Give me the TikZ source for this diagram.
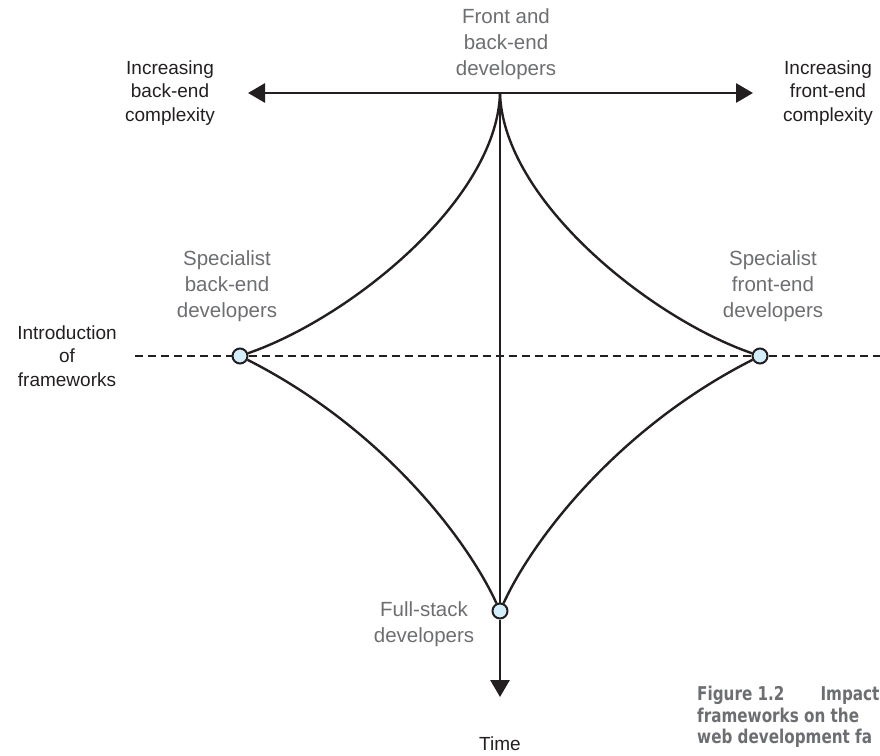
\documentclass[tikz,border=0pt]{standalone}
\usepackage{fontspec}
\setmainfont{Liberation Sans}
\newfontfamily\capfont[FakeStretch=0.8]{DejaVu Sans}
\usetikzlibrary{arrows.meta}
\definecolor{ink}{HTML}{231F20}
\definecolor{greytext}{HTML}{6D6E71}
\definecolor{dotfill}{HTML}{D4EEFB}
\tikzset{
    axisline/.style={draw=ink, line width=2.8pt},
    arrowed/.style={-{Triangle[length=17pt,width=19pt]}},
    curveline/.style={draw=ink, line width=2.4pt},
    dashline/.style={draw=ink, line width=2.4pt, dash pattern=on 8pt off 5pt},
    dot/.style={circle, draw=ink, fill=dotfill, line width=2pt, minimum size=15pt, inner sep=0pt},
    blacktext/.style={align=center, text=ink, font=\fontsize{19}{23.5}\selectfont},
    greytext/.style={align=center, text=greytext, font=\fontsize{20.5}{26}\selectfont},
    captiontext/.style={align=left, inner sep=0pt, text=greytext, font=\capfont\bfseries\fontsize{19}{21.7}\selectfont}
}
\begin{document}
\begin{tikzpicture}[x=1pt, y=-1pt]
    \useasboundingbox (0,0) rectangle (880,755);
    \clip (0,0) rectangle (880,755);
    \coordinate (top) at (500,93);
    \coordinate (leftend) at (248,93);
    \coordinate (rightend) at (753,93);
    \coordinate (timeend) at (500,697);
    \coordinate (dashstart) at (135,356);
    \coordinate (dashend) at (880,356);
    \node[dot] (backdev) at (240,356) {};
    \node[dot] (frontdev) at (760,356) {};
    \node[dot] (fullstack) at (500,611) {};
    \draw[axisline, arrowed] (top) -- (leftend);
    \draw[axisline, arrowed] (top) -- (rightend);
    \draw[axisline] (top) -- (fullstack);
    \draw[axisline, arrowed] (fullstack) -- (timeend);
    \draw[dashline] (dashstart) -- (backdev) (backdev) -- (frontdev) (frontdev) -- (dashend);
    \draw[curveline] (top) .. controls (497,200) and (350,318) .. (backdev);
    \draw[curveline] (top) .. controls (503,200) and (650,318) .. (frontdev);
    \draw[curveline] (backdev) .. controls (382,428) and (467,539) .. (fullstack);
    \draw[curveline] (frontdev) .. controls (618,428) and (533,539) .. (fullstack);
    \node[greytext] (bothdev) at (506,44) {Front and\\back-end\\developers};
    \node[blacktext] (backcx) at (170,93) {Increasing\\back-end\\complexity};
    \node[blacktext] (frontcx) at (828,93) {Increasing\\front-end\\complexity};
    \node[greytext] (backlabel) at (227,286) {Specialist\\back-end\\developers};
    \node[greytext] (frontlabel) at (773,286) {Specialist\\front-end\\developers};
    \node[blacktext] (intro) at (67,356) {Introduction\\of\\frameworks};
    \node[greytext] (fulllabel) at (424,624) {Full-stack\\developers};
    \node[blacktext] (time) at (500,744) {Time};
    \node[captiontext, anchor=west] (caption) at (697,717) {Figure 1.2\hspace{36pt}Impact\\frameworks on the\\web development fa};
\end{tikzpicture}
\end{document}
